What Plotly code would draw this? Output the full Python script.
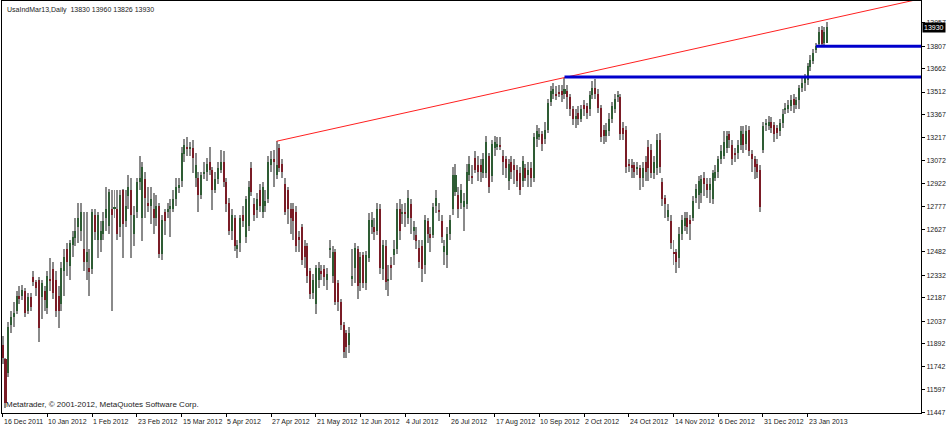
import plotly.graph_objects as go

# ---------------- data ----------------
opens = [11880,11790,11700,12010,12060,12100,12200,12200,12230,12100,12190,12320,12290,12300,12190,12230,12120,12310,12370,12300,
         12200,12150,12360,12500,12390,12530,12570,12640,12620,12500,12420,12380,12370,12720,12560,12560,12600,12700,12650,12760,
         12760,12760,12640,12880,12680,12840,12880,12600,12740,12930,12700,12950,12800,12780,12760,12700,12780,12470,12740,12740,
         12760,12760,12820,12900,12940,13110,13160,13150,13150,12960,12960,12850,12990,13000,13060,13010,12880,12950,13010,13060,
         12930,12800,12620,12700,12500,12540,12720,12580,12650,13020,12790,12750,12880,12740,12780,12820,13040,13080,12980,13150,
         13050,12920,12880,12760,12760,12740,12580,12640,12520,12520,12360,12220,12150,12300,12360,12370,12300,12500,12330,12480,
         12280,12160,12010,11960,11880,12310,12380,12500,12280,12460,12280,12440,12640,12640,12620,12760,12370,12520,12300,12400,
         12460,12500,12760,12730,12740,12700,12790,12620,12590,12510,12520,12400,12680,12600,12590,12780,12750,12680,12480,12460,
         12600,12760,12870,12850,12800,12770,12790,12980,12970,13090,13040,13040,12990,12990,13100,12970,13150,13160,13170,13100,
         13080,12940,13060,13040,13010,12990,12940,13020,12980,13020,12960,13210,13220,13240,13210,13270,13450,13500,13500,13510,
         13520,13500,13520,13480,13400,13340,13380,13340,13430,13420,13400,13490,13540,13500,13410,13270,13230,13260,13340,13400,
         13480,13480,13280,13270,13050,13040,13040,13020,13020,12960,13060,13160,13140,12990,13020,13200,12930,12830,12710,12680,
         12480,12480,12440,12600,12650,12700,12690,12700,12830,12850,12860,12960,12920,12880,12820,12960,13000,13080,13100,13150,
         13240,13170,13120,13120,13170,13240,13180,13270,13110,13080,13050,13010,13140,13300,13290,13320,13300,13280,13260,13310,
         13400,13400,13420,13470,13430,13460,13540,13570,13590,13670,13710,13780,13820,13910,13830,13830]
highs = [11940,11800,12030,12100,12160,12230,12260,12270,12250,12220,12220,12360,12300,12320,12300,12260,12360,12440,12420,12360,
         12260,12420,12500,12540,12560,12620,12700,12800,12800,12740,12740,12500,12760,12760,12740,12680,12740,12900,12890,12880,
         12880,12880,12880,12890,12880,12980,12960,12780,12960,13100,13060,13000,12900,12900,12860,12850,12800,12720,12760,12800,
         12820,12880,12960,12960,13160,13210,13220,13190,13200,13120,13000,13000,13060,13090,13160,13030,13000,13060,13140,13130,
         12960,12830,12760,12720,12560,12720,12780,12840,12940,13060,12830,12860,12920,12930,12880,13100,13130,13140,13195,13180,
         13080,12960,12900,12800,12800,12780,12620,12660,12560,12540,12380,12340,12400,12420,12400,12400,12380,12560,12520,12500,
         12300,12180,12030,11980,12000,12500,12540,12520,12480,12480,12490,12730,12740,12700,12800,12790,12560,12560,12400,12450,
         12560,12800,12820,12790,12800,12880,12820,12680,12640,12560,12560,12720,12700,12640,12800,12880,12800,12720,12560,12640,
         12720,13030,13050,12900,12920,12860,13050,13100,13040,13130,13100,13080,13120,13230,13120,13200,13230,13220,13220,13140,
         13100,13080,13100,13080,13040,13030,13100,13050,13060,13060,13250,13300,13280,13260,13320,13470,13550,13570,13550,13560,
         13560,13605,13560,13500,13420,13400,13420,13430,13460,13440,13520,13580,13595,13530,13430,13300,13310,13380,13450,13500,
         13520,13500,13320,13290,13080,13080,13060,13060,13040,13060,13100,13200,13180,13100,13240,13250,12960,12850,12790,12720,
         12560,12500,12640,12720,12740,12740,12720,12840,12920,12970,12980,13000,12960,12960,13010,13040,13100,13170,13260,13260,
         13260,13200,13150,13200,13290,13290,13300,13290,13140,13100,13080,13040,13320,13340,13360,13350,13320,13300,13340,13400,
         13440,13460,13490,13500,13480,13560,13600,13630,13700,13750,13790,13830,13930,13940,13930,13960]
lows = [11760,11480,11680,11960,12000,12080,12150,12170,12060,12080,12100,12260,12200,11900,12050,12100,12080,12230,12180,12060,
        11990,12100,12200,12330,12300,12450,12520,12540,12550,12360,12300,12200,12340,12560,12440,12480,12560,12620,12600,12100,
        12700,12560,12580,12440,12640,12760,12440,12520,12700,12880,12550,12700,12740,12660,12600,12650,12440,12430,12590,12700,
        12580,12740,12780,12860,12900,13060,13100,13100,12990,12900,12740,12820,12950,12940,12980,12750,12860,12920,12990,12900,
        12740,12590,12560,12490,12440,12480,12640,12540,12620,12840,12680,12700,12740,12700,12740,12800,13000,12900,12950,13000,
        12960,12720,12660,12600,12560,12480,12480,12400,12380,12280,12180,12180,12080,12250,12300,12260,12240,12440,12280,12140,
        12100,11980,11800,11800,11830,12260,12280,12180,12230,12250,12240,12420,12600,12560,12590,12340,12300,12240,12200,12300,
        12400,12470,12560,12660,12640,12660,12600,12560,12500,12380,12290,12340,12540,12480,12570,12730,12680,12540,12400,12380,
        12560,12720,12840,12700,12760,12620,12760,12940,12920,12990,12940,12930,12960,12960,12860,12930,13100,13140,13140,12980,
        12960,12880,12950,12920,12900,12850,12900,12940,12900,12900,12930,13160,13200,13130,13180,13250,13420,13470,13460,13480,
        13450,13470,13400,13360,13300,13280,13300,13320,13360,13340,13360,13470,13470,13380,13190,13180,13190,13230,13310,13380,
        13450,13200,13200,12990,13000,12960,12960,12980,12880,12900,12940,12940,12960,12950,12980,12990,12780,12700,12680,12500,
        12400,12345,12380,12560,12620,12600,12560,12680,12800,12760,12800,12840,12830,12800,12790,12940,12960,13050,13080,13120,
        13150,13040,13060,13080,13140,13120,13140,13100,13000,12950,12960,12740,13120,13260,13270,13250,13190,13210,13230,13280,
        13370,13380,13390,13380,13400,13400,13510,13520,13560,13650,13690,13760,13800,13800,13800,13826]
closes = [11800,11510,12000,12060,12090,12200,12180,12240,12090,12190,12130,12290,12250,11990,12280,12170,12330,12300,12220,12100,
          12100,12380,12450,12420,12540,12580,12620,12700,12740,12420,12480,12350,12740,12610,12720,12620,12680,12760,12870,12720,
          12770,12600,12850,12660,12780,12900,12720,12720,12930,12960,13030,12830,12780,12820,12700,12780,12470,12690,12680,12760,
          12780,12820,12900,12910,13120,13170,13150,13160,13090,13040,12850,12980,13000,13050,13010,12880,12950,13020,13060,12930,
          12790,12620,12720,12520,12530,12700,12680,12820,12900,12870,12720,12820,12780,12900,12810,13060,13080,13060,13040,13020,
          13000,12740,12760,12700,12680,12520,12560,12430,12450,12330,12210,12300,12380,12380,12340,12320,12340,12510,12480,12160,
          12160,12010,11840,11870,11960,12330,12510,12260,12450,12280,12460,12690,12690,12610,12760,12380,12530,12290,12310,12380,
          12500,12760,12620,12740,12730,12830,12700,12640,12550,12420,12370,12690,12600,12570,12770,12830,12740,12580,12520,12600,
          12690,12980,12980,12760,12880,12810,13000,13050,12960,13010,13000,13000,13080,13190,12900,13180,13190,13180,13160,13060,
          13020,13050,13000,13010,12940,12880,13070,12960,13010,12960,13220,13260,13240,13180,13270,13440,13520,13530,13490,13500,
          13490,13530,13480,13400,13340,13360,13340,13400,13400,13380,13490,13540,13500,13410,13220,13230,13270,13340,13420,13470,
          13490,13240,13240,13030,13040,13020,13000,13030,12960,13020,13000,13020,12990,13060,13200,13030,12820,12790,12750,12540,
          12470,12420,12600,12690,12700,12640,12660,12810,12890,12940,12950,12920,12880,12920,12990,13000,13080,13130,13190,13230,
          13200,13080,13110,13170,13260,13170,13260,13130,13080,13030,13000,12770,13290,13310,13320,13280,13240,13250,13310,13370,
          13410,13430,13460,13430,13460,13540,13570,13600,13680,13720,13760,13810,13900,13820,13900,13930]

tick_index = [0,16,32,48,64,80,96,112,128,144,160,176,192,208,224,240,256,272,288]
tick_dates = ["16 Dec 2011","10 Jan 2012","1 Feb 2012","23 Feb 2012","15 Mar 2012","5 Apr 2012",
              "27 Apr 2012","21 May 2012","12 Jun 2012","4 Jul 2012","26 Jul 2012","17 Aug 2012",
              "10 Sep 2012","2 Oct 2012","24 Oct 2012","14 Nov 2012","6 Dec 2012","31 Dec 2012","23 Jan 2013"]
price_ticks = [13957,13807,13662,13512,13367,13217,13072,12922,12777,12627,12482,12332,12187,12037,11892,11742,11597,11447]

trend_idx = [98, 201]          # anchor bars of the trend line
trend_val = [13195, 13605]
level_start = [201, 291]       # horizontal levels (blue)
level_val = [13608, 13807]

symbol_text = "UsaIndMar13,Daily\u00a0 13830 13960 13826 13930"
copyright_text = "Metatrader, © 2001-2012, MetaQuotes Software Corp."

# ---------------- figure ----------------
n = len(closes)
idx = list(range(n))
X_MIN, X_MAX = -0.25, 328.55
Y_MIN, Y_MAX = 11445, 14098

bull = "#2e5c34"
bear = "#7a1c26"
wick = "#8a8a8a"
FONT = "Liberation Sans, Arial, sans-serif"

fig = go.Figure()

# wicks
fig.add_trace(go.Bar(x=idx, y=[h - l for h, l in zip(highs, lows)], base=lows,
                     width=0.36, marker=dict(color=wick, line=dict(width=0)),
                     hoverinfo="skip"))
# bodies
body_base = [min(o, c) for o, c in zip(opens, closes)]
body_h = [max(abs(c - o), 6) for o, c in zip(opens, closes)]
body_col = [bull if c >= o else bear for o, c in zip(opens, closes)]
fig.add_trace(go.Bar(x=idx, y=body_h, base=body_base, width=0.72,
                     marker=dict(color=body_col, line=dict(width=0)),
                     customdata=list(zip(opens, highs, lows, closes)),
                     hovertemplate="O %{customdata[0]}<br>H %{customdata[1]}<br>L %{customdata[2]}<br>C %{customdata[3]}<extra></extra>"))

# trend line (ray) through the two anchors
slope = (trend_val[1] - trend_val[0]) / (trend_idx[1] - trend_idx[0])
fig.add_trace(go.Scatter(x=[trend_idx[0], X_MAX],
                         y=[trend_val[0], trend_val[0] + slope * (X_MAX - trend_idx[0])],
                         mode="lines", line=dict(color="#ff2020", width=1), hoverinfo="skip"))
# horizontal levels
for s, v in zip(level_start, level_val):
    fig.add_trace(go.Scatter(x=[s, X_MAX], y=[v, v], mode="lines",
                             line=dict(color="#0000cc", width=3), hoverinfo="skip"))

annotations = []
for ti, td in zip(tick_index, tick_dates):
    annotations.append(dict(x=ti, y=0, xref="x", yref="paper", text=td, showarrow=False,
                            xanchor="left", yanchor="top", xshift=-1, yshift=-3,
                            font=dict(family=FONT, size=7, color="#222")))
annotations.append(dict(x=0, y=1, xref="paper", yref="paper", text=symbol_text, showarrow=False,
                        xanchor="left", yanchor="top", xshift=3, yshift=-3,
                        font=dict(family=FONT, size=7, color="#222")))
annotations.append(dict(x=0, y=0, xref="paper", yref="paper", text=copyright_text, showarrow=False,
                        xanchor="left", yanchor="bottom", xshift=2, yshift=2,
                        font=dict(family=FONT, size=8, color="#222")))
annotations.append(dict(x=1, y=closes[-1], xref="paper", yref="y", text=str(closes[-1]), showarrow=False,
                        xanchor="left", yanchor="middle", xshift=1, bgcolor="#000000", borderpad=1,
                        font=dict(family=FONT, size=7, color="#ffffff")))

fig.update_layout(
    width=949, height=429,
    margin=dict(l=2, r=28, t=1, b=16),
    plot_bgcolor="white", paper_bgcolor="white",
    showlegend=False, barmode="overlay", bargap=0,
    annotations=annotations,
    xaxis=dict(range=[X_MIN, X_MAX], showgrid=False, zeroline=False,
               showline=True, linecolor="#000", linewidth=1, mirror=True,
               tickvals=tick_index, ticks="outside", ticklen=3, tickcolor="#000",
               showticklabels=False, fixedrange=True),
    yaxis=dict(range=[Y_MIN, Y_MAX], side="right", showgrid=False, zeroline=False,
               showline=True, linecolor="#000", linewidth=1, mirror=True,
               tickvals=price_ticks, ticktext=[str(v) for v in price_ticks],
               ticks="outside", ticklen=3, tickcolor="#000",
               tickfont=dict(family=FONT, size=7, color="#222"),
               fixedrange=True),
)

fig.write_html("out.html", config={"displayModeBar": False},
               post_script="document.body.style.margin='0px';document.body.style.overflow='hidden';")
